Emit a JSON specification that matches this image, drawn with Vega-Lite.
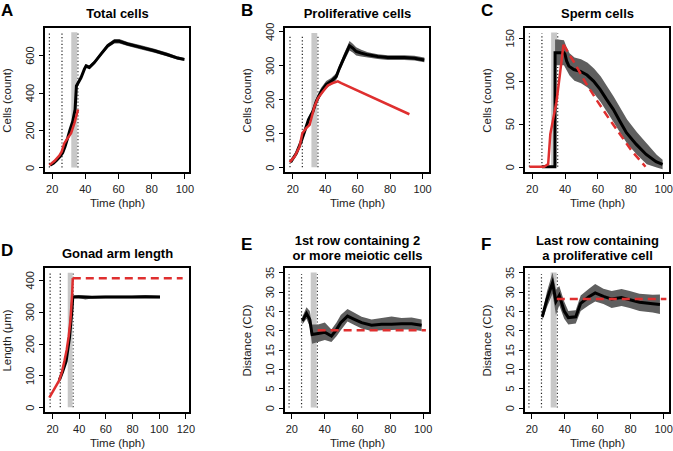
{
"$schema": "https://vega.github.io/schema/vega-lite/v6.json",
"background": "white",
"padding": {"left": 0, "top": 1, "right": 0, "bottom": 0},
"config": {
  "font": "Liberation Sans",
  "view": {"stroke": "black", "strokeWidth": 2},
  "axis": {"grid": false, "domain": false, "tickColor": "black", "tickSize": 5.5, "tickWidth": 1, "labelFont": "Liberation Sans", "labelFontSize": 11, "labelColor": "#222", "labelOverlap": false, "titleFont": "Liberation Sans", "titleFontSize": 11.5, "titleFontWeight": "normal", "titleColor": "#222"},
  "axisX": {"labelPadding": 4.5, "titlePadding": 3, "labelAngle": 0, "labelOverlap": false},
  "axisY": {"labelAngle": -90, "labelAlign": "center", "labelBaseline": "alphabetic", "labelPadding": 5.5, "titlePadding": 12, "labelOverlap": false},
  "title": {"font": "Liberation Sans", "fontSize": 17, "fontWeight": "bold", "anchor": "start", "frame": "bounds", "color": "black", "offset": -13}
},
"datasets": {
  "bands": [
    {"panel": "A", "x1": 31.8, "x2": 35.4, "y1": 0, "y2": 722},
    {"panel": "B", "x1": 31.8, "x2": 35.4, "y1": 0, "y2": 395},
    {"panel": "C", "x1": 31.8, "x2": 35.4, "y1": 0, "y2": 156},
    {"panel": "D", "x1": 31.8, "x2": 35.4, "y1": 0, "y2": 422},
    {"panel": "E", "x1": 31.8, "x2": 35.4, "y1": 0, "y2": 35},
    {"panel": "F", "x1": 31.8, "x2": 35.4, "y1": 0, "y2": 35}
  ],
  "molts": [
    {"panel": "A", "x": 18.6, "y1": 0, "y2": 718}, {"panel": "A", "x": 26.2, "y1": 0, "y2": 718}, {"panel": "A", "x": 35.8, "y1": 0, "y2": 718},
    {"panel": "B", "x": 18.6, "y1": 0, "y2": 390}, {"panel": "B", "x": 26.2, "y1": 0, "y2": 390}, {"panel": "B", "x": 35.8, "y1": 0, "y2": 390},
    {"panel": "C", "x": 18.6, "y1": 0, "y2": 155}, {"panel": "C", "x": 26.2, "y1": 0, "y2": 155}, {"panel": "C", "x": 35.8, "y1": 0, "y2": 155},
    {"panel": "D", "x": 18.6, "y1": 0, "y2": 420}, {"panel": "D", "x": 26.2, "y1": 0, "y2": 420}, {"panel": "D", "x": 35.8, "y1": 0, "y2": 420},
    {"panel": "E", "x": 18.6, "y1": 0, "y2": 34.5}, {"panel": "E", "x": 26.2, "y1": 0, "y2": 34.5}, {"panel": "E", "x": 35.8, "y1": 0, "y2": 34.5},
    {"panel": "F", "x": 18.6, "y1": 0, "y2": 34.5}, {"panel": "F", "x": 26.2, "y1": 0, "y2": 34.5}, {"panel": "F", "x": 35.8, "y1": 0, "y2": 34.5}
  ],
  "ribbons": [
    {"panel": "A", "x": 34.9, "lo": 425, "hi": 445}, {"panel": "A", "x": 37.7, "lo": 470, "hi": 490}, {"panel": "A", "x": 39.7, "lo": 515, "hi": 535}, {"panel": "A", "x": 40.7, "lo": 532, "hi": 552}, {"panel": "A", "x": 42.7, "lo": 524, "hi": 544}, {"panel": "A", "x": 45.7, "lo": 550, "hi": 570}, {"panel": "A", "x": 49.7, "lo": 595, "hi": 615}, {"panel": "A", "x": 53.8, "lo": 639, "hi": 661}, {"panel": "A", "x": 57.8, "lo": 662, "hi": 686}, {"panel": "A", "x": 60.8, "lo": 662, "hi": 686}, {"panel": "A", "x": 65.8, "lo": 648, "hi": 670}, {"panel": "A", "x": 73.9, "lo": 630, "hi": 652}, {"panel": "A", "x": 81.9, "lo": 612, "hi": 634}, {"panel": "A", "x": 89.9, "lo": 592, "hi": 612}, {"panel": "A", "x": 96, "lo": 575, "hi": 593}, {"panel": "A", "x": 100, "lo": 569, "hi": 585},
    {"panel": "B", "x": 19, "lo": 12, "hi": 18}, {"panel": "B", "x": 22.5, "lo": 37, "hi": 45}, {"panel": "B", "x": 25.5, "lo": 71, "hi": 81}, {"panel": "B", "x": 27.6, "lo": 99, "hi": 111}, {"panel": "B", "x": 30, "lo": 132, "hi": 148}, {"panel": "B", "x": 32.7, "lo": 155, "hi": 173}, {"panel": "B", "x": 34.8, "lo": 184, "hi": 204}, {"panel": "B", "x": 37.8, "lo": 212, "hi": 234}, {"panel": "B", "x": 40.9, "lo": 232, "hi": 254}, {"panel": "B", "x": 44, "lo": 243, "hi": 263}, {"panel": "B", "x": 47.1, "lo": 257, "hi": 277}, {"panel": "B", "x": 49.1, "lo": 282, "hi": 302}, {"panel": "B", "x": 52.2, "lo": 314, "hi": 338}, {"panel": "B", "x": 55.3, "lo": 344, "hi": 372}, {"panel": "B", "x": 57.3, "lo": 338, "hi": 364}, {"panel": "B", "x": 59.4, "lo": 329, "hi": 353}, {"panel": "B", "x": 62.5, "lo": 326, "hi": 346}, {"panel": "B", "x": 66.6, "lo": 323, "hi": 339}, {"panel": "B", "x": 72.7, "lo": 319, "hi": 333}, {"panel": "B", "x": 78.9, "lo": 316, "hi": 330}, {"panel": "B", "x": 89.1, "lo": 316, "hi": 330}, {"panel": "B", "x": 95.3, "lo": 314, "hi": 328}, {"panel": "B", "x": 101.4, "lo": 309, "hi": 323},
    {"panel": "C", "x": 34.2, "lo": 118, "hi": 148}, {"panel": "C", "x": 36, "lo": 118, "hi": 148}, {"panel": "C", "x": 39.6, "lo": 118, "hi": 147}, {"panel": "C", "x": 41, "lo": 113, "hi": 140}, {"panel": "C", "x": 43, "lo": 106, "hi": 132}, {"panel": "C", "x": 46, "lo": 100, "hi": 127}, {"panel": "C", "x": 50, "lo": 97, "hi": 125}, {"panel": "C", "x": 54, "lo": 92, "hi": 121}, {"panel": "C", "x": 58, "lo": 85, "hi": 114}, {"panel": "C", "x": 62, "lo": 75, "hi": 105}, {"panel": "C", "x": 66, "lo": 63, "hi": 93}, {"panel": "C", "x": 70, "lo": 51, "hi": 81}, {"panel": "C", "x": 74, "lo": 39, "hi": 68}, {"panel": "C", "x": 78, "lo": 27, "hi": 55}, {"panel": "C", "x": 84, "lo": 14, "hi": 40}, {"panel": "C", "x": 90, "lo": 3, "hi": 27}, {"panel": "C", "x": 96, "lo": -1, "hi": 14}, {"panel": "C", "x": 99.6, "lo": -3, "hi": 8},
    {"panel": "D", "x": 25.5, "lo": 82, "hi": 88}, {"panel": "D", "x": 28, "lo": 108, "hi": 116}, {"panel": "D", "x": 30.6, "lo": 140, "hi": 150}, {"panel": "D", "x": 33.1, "lo": 212, "hi": 224}, {"panel": "D", "x": 34.9, "lo": 296, "hi": 308}, {"panel": "D", "x": 35.6, "lo": 342, "hi": 350}, {"panel": "D", "x": 40, "lo": 343, "hi": 351}, {"panel": "D", "x": 45, "lo": 338, "hi": 350}, {"panel": "D", "x": 50, "lo": 341, "hi": 349}, {"panel": "D", "x": 60, "lo": 342, "hi": 350}, {"panel": "D", "x": 70, "lo": 342, "hi": 350}, {"panel": "D", "x": 80, "lo": 342, "hi": 350}, {"panel": "D", "x": 90, "lo": 343, "hi": 351}, {"panel": "D", "x": 101, "lo": 342, "hi": 350},
    {"panel": "E", "x": 26.7, "lo": 21.5, "hi": 23.5}, {"panel": "E", "x": 29.2, "lo": 23, "hi": 26}, {"panel": "E", "x": 31.2, "lo": 21, "hi": 25}, {"panel": "E", "x": 32.6, "lo": 16.5, "hi": 21.5}, {"panel": "E", "x": 36.3, "lo": 17, "hi": 21.5}, {"panel": "E", "x": 40.4, "lo": 17.5, "hi": 22}, {"panel": "E", "x": 44.4, "lo": 17, "hi": 20.2}, {"panel": "E", "x": 47.5, "lo": 18.5, "hi": 22}, {"panel": "E", "x": 50.1, "lo": 20, "hi": 24}, {"panel": "E", "x": 54.2, "lo": 22.3, "hi": 25.5}, {"panel": "E", "x": 58.7, "lo": 21.3, "hi": 24.5}, {"panel": "E", "x": 62.8, "lo": 20.5, "hi": 23.5}, {"panel": "E", "x": 68.9, "lo": 19.8, "hi": 22.8}, {"panel": "E", "x": 75, "lo": 20, "hi": 23.2}, {"panel": "E", "x": 81.1, "lo": 20.1, "hi": 23.6}, {"panel": "E", "x": 87.2, "lo": 20.2, "hi": 23.2}, {"panel": "E", "x": 93.3, "lo": 20.2, "hi": 23.3}, {"panel": "E", "x": 99.4, "lo": 19.8, "hi": 22.8},
    {"panel": "F", "x": 26.7, "lo": 22.5, "hi": 24.5}, {"panel": "F", "x": 29.5, "lo": 26, "hi": 30}, {"panel": "F", "x": 32.9, "lo": 29.5, "hi": 35}, {"panel": "F", "x": 35, "lo": 24, "hi": 30.5}, {"panel": "F", "x": 37, "lo": 26.5, "hi": 31.5}, {"panel": "F", "x": 40, "lo": 23, "hi": 27.5}, {"panel": "F", "x": 42.5, "lo": 21.5, "hi": 25}, {"panel": "F", "x": 47, "lo": 21.8, "hi": 25.2}, {"panel": "F", "x": 50, "lo": 25, "hi": 29}, {"panel": "F", "x": 55, "lo": 26.5, "hi": 30.8}, {"panel": "F", "x": 58.8, "lo": 27.5, "hi": 32}, {"panel": "F", "x": 63.8, "lo": 26.8, "hi": 30.8}, {"panel": "F", "x": 68.8, "lo": 25.8, "hi": 30.2}, {"panel": "F", "x": 74.8, "lo": 26.3, "hi": 30.7}, {"panel": "F", "x": 79.8, "lo": 25.8, "hi": 30.2}, {"panel": "F", "x": 85.7, "lo": 25, "hi": 29.5}, {"panel": "F", "x": 93.7, "lo": 24.6, "hi": 29.2}, {"panel": "F", "x": 98.1, "lo": 24.2, "hi": 29.3}
  ],
  "lines": [
    {"panel": "A", "series": "observed", "x": 19, "y": 12}, {"panel": "A", "series": "observed", "x": 21, "y": 22}, {"panel": "A", "series": "observed", "x": 23, "y": 38}, {"panel": "A", "series": "observed", "x": 25, "y": 58}, {"panel": "A", "series": "observed", "x": 26.6, "y": 78}, {"panel": "A", "series": "observed", "x": 28, "y": 110}, {"panel": "A", "series": "observed", "x": 29.6, "y": 156}, {"panel": "A", "series": "observed", "x": 31, "y": 200}, {"panel": "A", "series": "observed", "x": 32.7, "y": 246}, {"panel": "A", "series": "observed", "x": 34.1, "y": 309}, {"panel": "A", "series": "observed", "x": 34.9, "y": 435}, {"panel": "A", "series": "observed", "x": 37.7, "y": 480}, {"panel": "A", "series": "observed", "x": 39.7, "y": 525}, {"panel": "A", "series": "observed", "x": 40.7, "y": 542}, {"panel": "A", "series": "observed", "x": 42.7, "y": 534}, {"panel": "A", "series": "observed", "x": 45.7, "y": 560}, {"panel": "A", "series": "observed", "x": 49.7, "y": 605}, {"panel": "A", "series": "observed", "x": 53.8, "y": 650}, {"panel": "A", "series": "observed", "x": 57.8, "y": 674}, {"panel": "A", "series": "observed", "x": 60.8, "y": 674}, {"panel": "A", "series": "observed", "x": 65.8, "y": 659}, {"panel": "A", "series": "observed", "x": 73.9, "y": 641}, {"panel": "A", "series": "observed", "x": 81.9, "y": 623}, {"panel": "A", "series": "observed", "x": 89.9, "y": 602}, {"panel": "A", "series": "observed", "x": 96, "y": 584}, {"panel": "A", "series": "observed", "x": 100, "y": 577},
    {"panel": "A", "series": "model", "x": 18.6, "y": 12}, {"panel": "A", "series": "model", "x": 21.6, "y": 34}, {"panel": "A", "series": "model", "x": 24.6, "y": 63}, {"panel": "A", "series": "model", "x": 26, "y": 84}, {"panel": "A", "series": "model", "x": 27.6, "y": 129}, {"panel": "A", "series": "model", "x": 29.6, "y": 156}, {"panel": "A", "series": "model", "x": 31.7, "y": 183}, {"panel": "A", "series": "model", "x": 33.7, "y": 237}, {"panel": "A", "series": "model", "x": 35.9, "y": 309},
    {"panel": "B", "series": "observed", "x": 19, "y": 15}, {"panel": "B", "series": "observed", "x": 22.5, "y": 41}, {"panel": "B", "series": "observed", "x": 25.5, "y": 76}, {"panel": "B", "series": "observed", "x": 27.6, "y": 105}, {"panel": "B", "series": "observed", "x": 30, "y": 140}, {"panel": "B", "series": "observed", "x": 32.7, "y": 164}, {"panel": "B", "series": "observed", "x": 34.8, "y": 194}, {"panel": "B", "series": "observed", "x": 37.8, "y": 223}, {"panel": "B", "series": "observed", "x": 40.9, "y": 243}, {"panel": "B", "series": "observed", "x": 44, "y": 253}, {"panel": "B", "series": "observed", "x": 47.1, "y": 267}, {"panel": "B", "series": "observed", "x": 49.1, "y": 292}, {"panel": "B", "series": "observed", "x": 52.2, "y": 326}, {"panel": "B", "series": "observed", "x": 55.3, "y": 358}, {"panel": "B", "series": "observed", "x": 57.3, "y": 351}, {"panel": "B", "series": "observed", "x": 59.4, "y": 341}, {"panel": "B", "series": "observed", "x": 62.5, "y": 336}, {"panel": "B", "series": "observed", "x": 66.6, "y": 331}, {"panel": "B", "series": "observed", "x": 72.7, "y": 326}, {"panel": "B", "series": "observed", "x": 78.9, "y": 323}, {"panel": "B", "series": "observed", "x": 89.1, "y": 323}, {"panel": "B", "series": "observed", "x": 95.3, "y": 321}, {"panel": "B", "series": "observed", "x": 101.4, "y": 316},
    {"panel": "B", "series": "model", "x": 18.4, "y": 15}, {"panel": "B", "series": "model", "x": 21.4, "y": 31}, {"panel": "B", "series": "model", "x": 24.5, "y": 61}, {"panel": "B", "series": "model", "x": 26.2, "y": 100}, {"panel": "B", "series": "model", "x": 28.6, "y": 115}, {"panel": "B", "series": "model", "x": 30.7, "y": 125}, {"panel": "B", "series": "model", "x": 33.7, "y": 179}, {"panel": "B", "series": "model", "x": 35.8, "y": 203}, {"panel": "B", "series": "model", "x": 38.9, "y": 223}, {"panel": "B", "series": "model", "x": 41.9, "y": 241}, {"panel": "B", "series": "model", "x": 45, "y": 248}, {"panel": "B", "series": "model", "x": 48.1, "y": 253}, {"panel": "B", "series": "model", "x": 50.2, "y": 248}, {"panel": "B", "series": "model", "x": 92.2, "y": 156},
    {"panel": "C", "series": "observed", "x": 26.2, "y": 0}, {"panel": "C", "series": "observed", "x": 34.1, "y": 0}, {"panel": "C", "series": "observed", "x": 34.2, "y": 132.6}, {"panel": "C", "series": "observed", "x": 39.6, "y": 132.6}, {"panel": "C", "series": "observed", "x": 40.2, "y": 131}, {"panel": "C", "series": "observed", "x": 41.2, "y": 123}, {"panel": "C", "series": "observed", "x": 42.6, "y": 117}, {"panel": "C", "series": "observed", "x": 45.6, "y": 113}, {"panel": "C", "series": "observed", "x": 49.6, "y": 111}, {"panel": "C", "series": "observed", "x": 53.6, "y": 106.6}, {"panel": "C", "series": "observed", "x": 57.6, "y": 99.6}, {"panel": "C", "series": "observed", "x": 61.6, "y": 90}, {"panel": "C", "series": "observed", "x": 65.6, "y": 78}, {"panel": "C", "series": "observed", "x": 69.6, "y": 66.7}, {"panel": "C", "series": "observed", "x": 73.6, "y": 53}, {"panel": "C", "series": "observed", "x": 77.6, "y": 39.5}, {"panel": "C", "series": "observed", "x": 83.6, "y": 26}, {"panel": "C", "series": "observed", "x": 89.6, "y": 14.3}, {"panel": "C", "series": "observed", "x": 95.6, "y": 5.8}, {"panel": "C", "series": "observed", "x": 99.6, "y": 2.7},
    {"panel": "C", "series": "model", "x": 18.6, "y": 0}, {"panel": "C", "series": "model", "x": 27.6, "y": 0}, {"panel": "C", "series": "model", "x": 30, "y": 3}, {"panel": "C", "series": "model", "x": 31.3, "y": 38}, {"panel": "C", "series": "model", "x": 33, "y": 55}, {"panel": "C", "series": "model", "x": 35, "y": 75}, {"panel": "C", "series": "model", "x": 37, "y": 105}, {"panel": "C", "series": "model", "x": 39.3, "y": 142},
    {"panel": "C", "series": "projected", "x": 39.3, "y": 142}, {"panel": "C", "series": "projected", "x": 45.9, "y": 121}, {"panel": "C", "series": "projected", "x": 53, "y": 97}, {"panel": "C", "series": "projected", "x": 60, "y": 76}, {"panel": "C", "series": "projected", "x": 67, "y": 56}, {"panel": "C", "series": "projected", "x": 73.6, "y": 38}, {"panel": "C", "series": "projected", "x": 81, "y": 18}, {"panel": "C", "series": "projected", "x": 89.2, "y": 0},
    {"panel": "D", "series": "observed", "x": 25.5, "y": 85}, {"panel": "D", "series": "observed", "x": 28, "y": 112}, {"panel": "D", "series": "observed", "x": 30.6, "y": 145}, {"panel": "D", "series": "observed", "x": 33.1, "y": 218}, {"panel": "D", "series": "observed", "x": 34.9, "y": 302}, {"panel": "D", "series": "observed", "x": 35.6, "y": 346}, {"panel": "D", "series": "observed", "x": 40, "y": 347}, {"panel": "D", "series": "observed", "x": 50, "y": 345}, {"panel": "D", "series": "observed", "x": 60, "y": 346}, {"panel": "D", "series": "observed", "x": 70, "y": 346}, {"panel": "D", "series": "observed", "x": 80, "y": 346}, {"panel": "D", "series": "observed", "x": 90, "y": 347}, {"panel": "D", "series": "observed", "x": 101, "y": 346},
    {"panel": "D", "series": "model", "x": 18, "y": 30}, {"panel": "D", "series": "model", "x": 25.5, "y": 85}, {"panel": "D", "series": "model", "x": 27.5, "y": 112}, {"panel": "D", "series": "model", "x": 29.3, "y": 145}, {"panel": "D", "series": "model", "x": 31, "y": 180}, {"panel": "D", "series": "model", "x": 32.5, "y": 222}, {"panel": "D", "series": "model", "x": 33.8, "y": 271}, {"panel": "D", "series": "model", "x": 35.1, "y": 354}, {"panel": "D", "series": "model", "x": 35.6, "y": 405},
    {"panel": "D", "series": "projected", "x": 35.6, "y": 405}, {"panel": "D", "series": "projected", "x": 118, "y": 405},
    {"panel": "E", "series": "observed", "x": 26.7, "y": 22.4}, {"panel": "E", "series": "observed", "x": 29.2, "y": 24.4}, {"panel": "E", "series": "observed", "x": 31.2, "y": 22.8}, {"panel": "E", "series": "observed", "x": 32.6, "y": 18.9}, {"panel": "E", "series": "observed", "x": 36.3, "y": 19.2}, {"panel": "E", "series": "observed", "x": 40.4, "y": 19.5}, {"panel": "E", "series": "observed", "x": 44.4, "y": 18.5}, {"panel": "E", "series": "observed", "x": 47.5, "y": 20.2}, {"panel": "E", "series": "observed", "x": 50.1, "y": 22}, {"panel": "E", "series": "observed", "x": 54.2, "y": 23.7}, {"panel": "E", "series": "observed", "x": 58.7, "y": 22.8}, {"panel": "E", "series": "observed", "x": 62.8, "y": 22}, {"panel": "E", "series": "observed", "x": 68.9, "y": 21.3}, {"panel": "E", "series": "observed", "x": 75, "y": 21.6}, {"panel": "E", "series": "observed", "x": 81.1, "y": 21.6}, {"panel": "E", "series": "observed", "x": 87.2, "y": 21.7}, {"panel": "E", "series": "observed", "x": 93.3, "y": 21.7}, {"panel": "E", "series": "observed", "x": 99.4, "y": 21.3},
    {"panel": "E", "series": "projected", "x": 36, "y": 20}, {"panel": "E", "series": "projected", "x": 102, "y": 20},
    {"panel": "F", "series": "observed", "x": 26.7, "y": 23.5}, {"panel": "F", "series": "observed", "x": 29.5, "y": 28}, {"panel": "F", "series": "observed", "x": 32.9, "y": 32.3}, {"panel": "F", "series": "observed", "x": 35, "y": 27.5}, {"panel": "F", "series": "observed", "x": 37, "y": 29}, {"panel": "F", "series": "observed", "x": 40, "y": 25}, {"panel": "F", "series": "observed", "x": 42.5, "y": 23.3}, {"panel": "F", "series": "observed", "x": 47, "y": 23.5}, {"panel": "F", "series": "observed", "x": 50, "y": 27}, {"panel": "F", "series": "observed", "x": 55, "y": 28.7}, {"panel": "F", "series": "observed", "x": 58.8, "y": 29.7}, {"panel": "F", "series": "observed", "x": 63.8, "y": 28.8}, {"panel": "F", "series": "observed", "x": 68.8, "y": 28.1}, {"panel": "F", "series": "observed", "x": 74.8, "y": 28.5}, {"panel": "F", "series": "observed", "x": 79.8, "y": 27.9}, {"panel": "F", "series": "observed", "x": 85.7, "y": 27.3}, {"panel": "F", "series": "observed", "x": 93.7, "y": 26.9}, {"panel": "F", "series": "observed", "x": 98.1, "y": 26.7},
    {"panel": "F", "series": "projected", "x": 35.5, "y": 28.1}, {"panel": "F", "series": "projected", "x": 102, "y": 28.1}
  ]
},
"columns": 3,
"spacing": {"row": 94, "column": 94},
"bounds": "flush",
"concat": [
  {
    "width": 146, "height": 146,
    "title": {"text": "A"},
    "resolve": {"scale": {"x": "independent"}},
    "layer": [
      {"data": {"name": "molts"}, "transform": [{"filter": "datum.panel === 'A'"}],
       "mark": {"type": "rule", "color": "#222", "strokeWidth": 1.2, "strokeDash": [1.2, 2.2]},
       "encoding": {
         "x": {"field": "x", "type": "quantitative", "scale": {"domain": [15.35, 103.4], "nice": false, "zero": false}, "axis": {"orient": "top", "title": "Total cells", "labels": false, "ticks": false, "domain": false, "titleFontSize": 13, "titleFontWeight": "bold", "titleColor": "black", "titlePadding": 7}},
         "y": {"field": "y1", "type": "quantitative", "title": "Cells (count)", "scale": {"domain": [-30, 750], "nice": false, "zero": false}, "axis": {"values": [0, 200, 400, 600], "labelOverlap": false}},
         "y2": {"field": "y2"}}},
      {"encoding": {
         "x": {"field": "x", "type": "quantitative", "title": "Time (hph)", "scale": {"domain": [15.35, 103.4], "nice": false, "zero": false}, "axis": {"orient": "bottom", "values": [20, 40, 60, 80, 100], "labelOverlap": false}},
         "y": {"field": "y", "type": "quantitative", "title": "Cells (count)", "scale": {"domain": [-30, 750], "nice": false, "zero": false}, "axis": {"values": [0, 200, 400, 600], "labelOverlap": false}}},
       "layer": [
         {"data": {"name": "bands"}, "transform": [{"filter": "datum.panel === 'A'"}], "mark": {"type": "rect", "color": "#c8c8c8"},
          "encoding": {"x": {"field": "x1", "type": "quantitative", "title": "Time (hph)"}, "x2": {"field": "x2"}, "y": {"field": "y1", "type": "quantitative", "title": "Cells (count)"}, "y2": {"field": "y2"}}},
         {"data": {"name": "ribbons"}, "transform": [{"filter": "datum.panel === 'A'"}], "mark": {"type": "area", "color": "#5f5f5f"},
          "encoding": {"y": {"field": "lo", "type": "quantitative", "title": "Cells (count)"}, "y2": {"field": "hi"}}},
         {"data": {"name": "lines"}, "transform": [{"filter": "datum.panel === 'A' && datum.series === 'observed'"}], "mark": {"type": "line", "color": "black", "strokeWidth": 3}},
         {"data": {"name": "lines"}, "transform": [{"filter": "datum.panel === 'A' && datum.series === 'model'"}], "mark": {"type": "line", "color": "#df2f2f", "strokeWidth": 2.5}}
       ]}
    ]
  },
  {
    "width": 146, "height": 146,
    "title": {"text": "B"},
    "resolve": {"scale": {"x": "independent"}},
    "layer": [
      {"data": {"name": "molts"}, "transform": [{"filter": "datum.panel === 'B'"}],
       "mark": {"type": "rule", "color": "#222", "strokeWidth": 1.2, "strokeDash": [1.2, 2.2]},
       "encoding": {
         "x": {"field": "x", "type": "quantitative", "scale": {"domain": [14.9, 104.9], "nice": false, "zero": false}, "axis": {"orient": "top", "title": "Proliferative cells", "labels": false, "ticks": false, "domain": false, "titleFontSize": 13, "titleFontWeight": "bold", "titleColor": "black", "titlePadding": 7}},
         "y": {"field": "y1", "type": "quantitative", "title": "Cells (count)", "scale": {"domain": [-17, 413], "nice": false, "zero": false}, "axis": {"values": [0, 100, 200, 300, 400], "labelOverlap": false}},
         "y2": {"field": "y2"}}},
      {"encoding": {
         "x": {"field": "x", "type": "quantitative", "title": "Time (hph)", "scale": {"domain": [14.9, 104.9], "nice": false, "zero": false}, "axis": {"orient": "bottom", "values": [20, 40, 60, 80, 100], "labelOverlap": false}},
         "y": {"field": "y", "type": "quantitative", "title": "Cells (count)", "scale": {"domain": [-17, 413], "nice": false, "zero": false}, "axis": {"values": [0, 100, 200, 300, 400], "labelOverlap": false}}},
       "layer": [
         {"data": {"name": "bands"}, "transform": [{"filter": "datum.panel === 'B'"}], "mark": {"type": "rect", "color": "#c8c8c8"},
          "encoding": {"x": {"field": "x1", "type": "quantitative", "title": "Time (hph)"}, "x2": {"field": "x2"}, "y": {"field": "y1", "type": "quantitative", "title": "Cells (count)"}, "y2": {"field": "y2"}}},
         {"data": {"name": "ribbons"}, "transform": [{"filter": "datum.panel === 'B'"}], "mark": {"type": "area", "color": "#5f5f5f"},
          "encoding": {"y": {"field": "lo", "type": "quantitative", "title": "Cells (count)"}, "y2": {"field": "hi"}}},
         {"data": {"name": "lines"}, "transform": [{"filter": "datum.panel === 'B' && datum.series === 'observed'"}], "mark": {"type": "line", "color": "black", "strokeWidth": 3}},
         {"data": {"name": "lines"}, "transform": [{"filter": "datum.panel === 'B' && datum.series === 'model'"}], "mark": {"type": "line", "color": "#df2f2f", "strokeWidth": 2.5}}
       ]}
    ]
  },
  {
    "width": 146, "height": 146,
    "title": {"text": "C"},
    "resolve": {"scale": {"x": "independent"}},
    "layer": [
      {"data": {"name": "molts"}, "transform": [{"filter": "datum.panel === 'C'"}],
       "mark": {"type": "rule", "color": "#222", "strokeWidth": 1.2, "strokeDash": [1.2, 2.2]},
       "encoding": {
         "x": {"field": "x", "type": "quantitative", "scale": {"domain": [15.3, 104.1], "nice": false, "zero": false}, "axis": {"orient": "top", "title": "Sperm cells", "labels": false, "ticks": false, "domain": false, "titleFontSize": 13, "titleFontWeight": "bold", "titleColor": "black", "titlePadding": 7}},
         "y": {"field": "y1", "type": "quantitative", "title": "Cells (count)", "scale": {"domain": [-7.3, 162.5], "nice": false, "zero": false}, "axis": {"values": [0, 50, 100, 150], "labelOverlap": false}},
         "y2": {"field": "y2"}}},
      {"encoding": {
         "x": {"field": "x", "type": "quantitative", "title": "Time (hph)", "scale": {"domain": [15.3, 104.1], "nice": false, "zero": false}, "axis": {"orient": "bottom", "values": [20, 40, 60, 80, 100], "labelOverlap": false}},
         "y": {"field": "y", "type": "quantitative", "title": "Cells (count)", "scale": {"domain": [-7.3, 162.5], "nice": false, "zero": false}, "axis": {"values": [0, 50, 100, 150], "labelOverlap": false}}},
       "layer": [
         {"data": {"name": "bands"}, "transform": [{"filter": "datum.panel === 'C'"}], "mark": {"type": "rect", "color": "#c8c8c8"},
          "encoding": {"x": {"field": "x1", "type": "quantitative", "title": "Time (hph)"}, "x2": {"field": "x2"}, "y": {"field": "y1", "type": "quantitative", "title": "Cells (count)"}, "y2": {"field": "y2"}}},
         {"data": {"name": "ribbons"}, "transform": [{"filter": "datum.panel === 'C'"}], "mark": {"type": "area", "color": "#5f5f5f"},
          "encoding": {"y": {"field": "lo", "type": "quantitative", "title": "Cells (count)"}, "y2": {"field": "hi"}}},
         {"data": {"name": "lines"}, "transform": [{"filter": "datum.panel === 'C' && datum.series === 'observed'"}], "mark": {"type": "line", "color": "black", "strokeWidth": 3}},
         {"data": {"name": "lines"}, "transform": [{"filter": "datum.panel === 'C' && datum.series === 'model'"}], "mark": {"type": "line", "color": "#df2f2f", "strokeWidth": 2.5}},
         {"data": {"name": "lines"}, "transform": [{"filter": "datum.panel === 'C' && datum.series === 'projected'"}], "mark": {"type": "line", "color": "#df2f2f", "strokeWidth": 2.5, "strokeDash": [8, 5]}}
       ]}
    ]
  },
  {
    "width": 146, "height": 146,
    "title": {"text": "D"},
    "resolve": {"scale": {"x": "independent"}},
    "layer": [
      {"data": {"name": "molts"}, "transform": [{"filter": "datum.panel === 'D'"}],
       "mark": {"type": "rule", "color": "#222", "strokeWidth": 1.2, "strokeDash": [1.2, 2.2]},
       "encoding": {
         "x": {"field": "x", "type": "quantitative", "scale": {"domain": [14, 123.5], "nice": false, "zero": false}, "axis": {"orient": "top", "title": "Gonad arm length", "labels": false, "ticks": false, "domain": false, "titleFontSize": 13, "titleFontWeight": "bold", "titleColor": "black", "titlePadding": 7}},
         "y": {"field": "y1", "type": "quantitative", "title": "Length (μm)", "scale": {"domain": [-18, 440], "nice": false, "zero": false}, "axis": {"values": [0, 100, 200, 300, 400], "labelOverlap": false}},
         "y2": {"field": "y2"}}},
      {"encoding": {
         "x": {"field": "x", "type": "quantitative", "title": "Time (hph)", "scale": {"domain": [14, 123.5], "nice": false, "zero": false}, "axis": {"orient": "bottom", "values": [20, 40, 60, 80, 100, 120], "labelOverlap": false}},
         "y": {"field": "y", "type": "quantitative", "title": "Length (μm)", "scale": {"domain": [-18, 440], "nice": false, "zero": false}, "axis": {"values": [0, 100, 200, 300, 400], "labelOverlap": false}}},
       "layer": [
         {"data": {"name": "bands"}, "transform": [{"filter": "datum.panel === 'D'"}], "mark": {"type": "rect", "color": "#c8c8c8"},
          "encoding": {"x": {"field": "x1", "type": "quantitative", "title": "Time (hph)"}, "x2": {"field": "x2"}, "y": {"field": "y1", "type": "quantitative", "title": "Length (μm)"}, "y2": {"field": "y2"}}},
         {"data": {"name": "ribbons"}, "transform": [{"filter": "datum.panel === 'D'"}], "mark": {"type": "area", "color": "#5f5f5f"},
          "encoding": {"y": {"field": "lo", "type": "quantitative", "title": "Length (μm)"}, "y2": {"field": "hi"}}},
         {"data": {"name": "lines"}, "transform": [{"filter": "datum.panel === 'D' && datum.series === 'observed'"}], "mark": {"type": "line", "color": "black", "strokeWidth": 3}},
         {"data": {"name": "lines"}, "transform": [{"filter": "datum.panel === 'D' && datum.series === 'model'"}], "mark": {"type": "line", "color": "#df2f2f", "strokeWidth": 2.5}},
         {"data": {"name": "lines"}, "transform": [{"filter": "datum.panel === 'D' && datum.series === 'projected'"}], "mark": {"type": "line", "color": "#df2f2f", "strokeWidth": 2.5, "strokeDash": [8, 5]}}
       ]}
    ]
  },
  {
    "width": 146, "height": 146,
    "title": {"text": "E", "offset": -20},
    "resolve": {"scale": {"x": "independent"}},
    "layer": [
      {"data": {"name": "molts"}, "transform": [{"filter": "datum.panel === 'E'"}],
       "mark": {"type": "rule", "color": "#222", "strokeWidth": 1.2, "strokeDash": [1.2, 2.2]},
       "encoding": {
         "x": {"field": "x", "type": "quantitative", "scale": {"domain": [15.5, 104.5], "nice": false, "zero": false}, "axis": {"orient": "top", "title": ["1st row containing 2", "or more meiotic cells"], "labels": false, "ticks": false, "domain": false, "titleFontSize": 13, "titleFontWeight": "bold", "titleColor": "black", "titlePadding": 5, "titleLineHeight": 15}},
         "y": {"field": "y1", "type": "quantitative", "title": "Distance (CD)", "scale": {"domain": [-1.4, 36.4], "nice": false, "zero": false}, "axis": {"values": [0, 5, 10, 15, 20, 25, 30, 35], "labelOverlap": false}},
         "y2": {"field": "y2"}}},
      {"encoding": {
         "x": {"field": "x", "type": "quantitative", "title": "Time (hph)", "scale": {"domain": [15.5, 104.5], "nice": false, "zero": false}, "axis": {"orient": "bottom", "values": [20, 40, 60, 80, 100], "labelOverlap": false}},
         "y": {"field": "y", "type": "quantitative", "title": "Distance (CD)", "scale": {"domain": [-1.4, 36.4], "nice": false, "zero": false}, "axis": {"values": [0, 5, 10, 15, 20, 25, 30, 35], "labelOverlap": false}}},
       "layer": [
         {"data": {"name": "bands"}, "transform": [{"filter": "datum.panel === 'E'"}], "mark": {"type": "rect", "color": "#c8c8c8"},
          "encoding": {"x": {"field": "x1", "type": "quantitative", "title": "Time (hph)"}, "x2": {"field": "x2"}, "y": {"field": "y1", "type": "quantitative", "title": "Distance (CD)"}, "y2": {"field": "y2"}}},
         {"data": {"name": "ribbons"}, "transform": [{"filter": "datum.panel === 'E'"}], "mark": {"type": "area", "color": "#5f5f5f"},
          "encoding": {"y": {"field": "lo", "type": "quantitative", "title": "Distance (CD)"}, "y2": {"field": "hi"}}},
         {"data": {"name": "lines"}, "transform": [{"filter": "datum.panel === 'E' && datum.series === 'observed'"}], "mark": {"type": "line", "color": "black", "strokeWidth": 3}},
         {"data": {"name": "lines"}, "transform": [{"filter": "datum.panel === 'E' && datum.series === 'projected'"}], "mark": {"type": "line", "color": "#df2f2f", "strokeWidth": 2.5, "strokeDash": [8, 5]}}
       ]}
    ]
  },
  {
    "width": 146, "height": 146,
    "title": {"text": "F", "offset": -20},
    "resolve": {"scale": {"x": "independent"}},
    "layer": [
      {"data": {"name": "molts"}, "transform": [{"filter": "datum.panel === 'F'"}],
       "mark": {"type": "rule", "color": "#222", "strokeWidth": 1.2, "strokeDash": [1.2, 2.2]},
       "encoding": {
         "x": {"field": "x", "type": "quantitative", "scale": {"domain": [15.6, 104.2], "nice": false, "zero": false}, "axis": {"orient": "top", "title": ["Last row containing", "a proliferative cell"], "labels": false, "ticks": false, "domain": false, "titleFontSize": 13, "titleFontWeight": "bold", "titleColor": "black", "titlePadding": 5, "titleLineHeight": 15}},
         "y": {"field": "y1", "type": "quantitative", "title": "Distance (CD)", "scale": {"domain": [-1.4, 36.4], "nice": false, "zero": false}, "axis": {"values": [0, 5, 10, 15, 20, 25, 30, 35], "labelOverlap": false}},
         "y2": {"field": "y2"}}},
      {"encoding": {
         "x": {"field": "x", "type": "quantitative", "title": "Time (hph)", "scale": {"domain": [15.6, 104.2], "nice": false, "zero": false}, "axis": {"orient": "bottom", "values": [20, 40, 60, 80, 100], "labelOverlap": false}},
         "y": {"field": "y", "type": "quantitative", "title": "Distance (CD)", "scale": {"domain": [-1.4, 36.4], "nice": false, "zero": false}, "axis": {"values": [0, 5, 10, 15, 20, 25, 30, 35], "labelOverlap": false}}},
       "layer": [
         {"data": {"name": "bands"}, "transform": [{"filter": "datum.panel === 'F'"}], "mark": {"type": "rect", "color": "#c8c8c8"},
          "encoding": {"x": {"field": "x1", "type": "quantitative", "title": "Time (hph)"}, "x2": {"field": "x2"}, "y": {"field": "y1", "type": "quantitative", "title": "Distance (CD)"}, "y2": {"field": "y2"}}},
         {"data": {"name": "ribbons"}, "transform": [{"filter": "datum.panel === 'F'"}], "mark": {"type": "area", "color": "#5f5f5f"},
          "encoding": {"y": {"field": "lo", "type": "quantitative", "title": "Distance (CD)"}, "y2": {"field": "hi"}}},
         {"data": {"name": "lines"}, "transform": [{"filter": "datum.panel === 'F' && datum.series === 'observed'"}], "mark": {"type": "line", "color": "black", "strokeWidth": 3}},
         {"data": {"name": "lines"}, "transform": [{"filter": "datum.panel === 'F' && datum.series === 'projected'"}], "mark": {"type": "line", "color": "#df2f2f", "strokeWidth": 2.5, "strokeDash": [8, 5]}}
       ]}
    ]
  }
]
}
